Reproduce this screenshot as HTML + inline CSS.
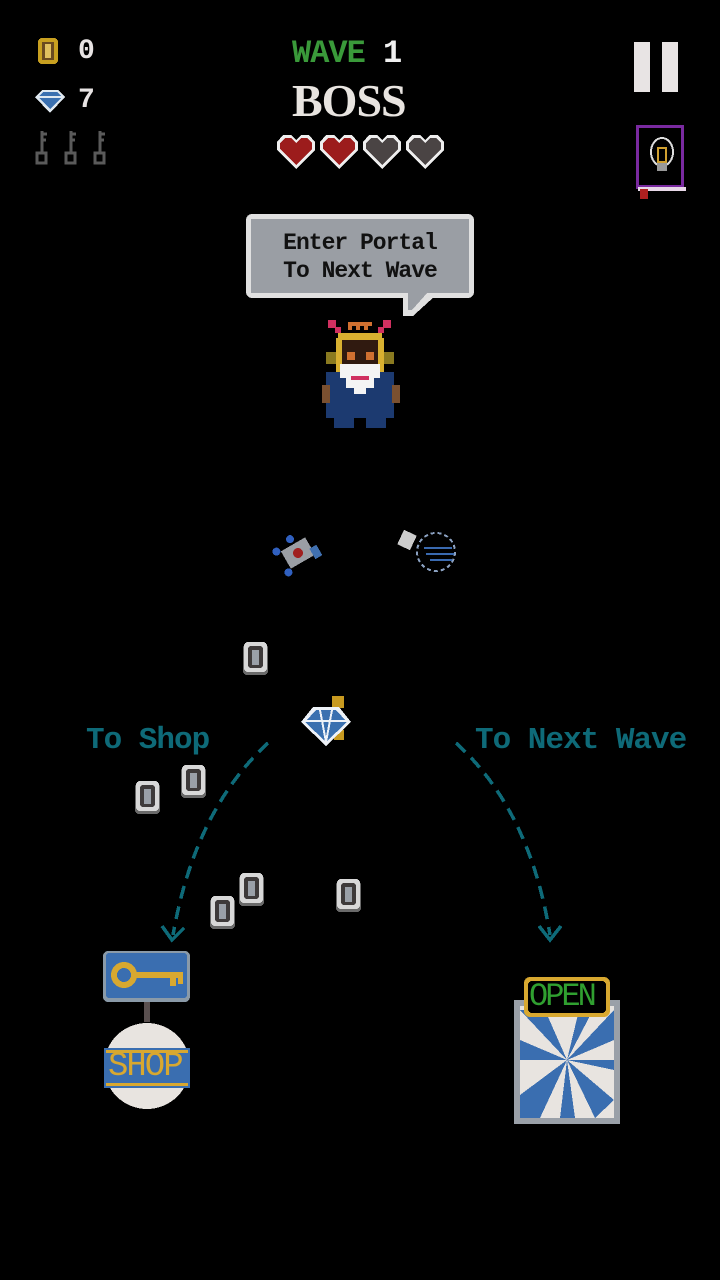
<!DOCTYPE html>
<html><head><meta charset="utf-8"><style>
html,body{margin:0;padding:0;background:#000;}
#c{position:relative;width:720px;height:1280px;overflow:hidden;background:#000;}
.t{position:absolute;font-family:"Liberation Mono",monospace;font-weight:bold;white-space:nowrap;line-height:1;}
</style></head><body><div id="c">
<svg width="720" height="1280" style="position:absolute;left:0;top:0" shape-rendering="crispEdges">
<defs>
<g id="scoin"><rect x="0" y="2" width="25" height="31" rx="4" fill="#6a6a6a"/><rect x="1" y="0" width="23" height="30" rx="4" fill="#d8d8d8"/><rect x="5" y="4" width="15" height="22" rx="3" fill="#3e3a3a"/><rect x="9" y="8" width="7" height="15" fill="#9aa0a8"/></g>
<g id="heart"><path d="M2 10 L8 3 L16 3 L21 8 L26 3 L34 3 L40 10 L40 18 L21 37 L2 18 Z" fill="#eee"/></g>
</defs>
<!-- top-left HUD -->
<rect x="38" y="38" width="20" height="26" rx="4" fill="#c8a020"/><rect x="42" y="42" width="12" height="18" fill="#6a4a20"/><rect x="45" y="44" width="6" height="14" fill="#e0c060"/>
<path d="M35 97 L42 90 L58 90 L65 97 L50 113 Z" fill="#dfe8f0"/><path d="M38 97 L43 92 L57 92 L62 97 L50 109 Z" fill="#3a70b0"/><rect x="37" y="96" width="26" height="2" fill="#dfe8f0"/>
<g fill="none" stroke="#5a5a5a" stroke-width="3">
<path d="M42 131 V153 M42 134 H47 M42 140 H46"/><rect x="37" y="153" width="9" height="10"/>
<path d="M71 131 V153 M71 134 H76 M71 140 H75"/><rect x="66" y="153" width="9" height="10"/>
<path d="M100 131 V153 M100 134 H105 M100 140 H104"/><rect x="95" y="153" width="9" height="10"/>
</g>
<!-- hearts -->
<g transform="translate(275,132)"><use href="#heart"/><path d="M5 11 L10 6 L16 6 L21 11 L26 6 L32 6 L37 11 L37 17 L21 33 L5 17 Z" fill="#9c1c1c"/></g>
<g transform="translate(318,132)"><use href="#heart"/><path d="M5 11 L10 6 L16 6 L21 11 L26 6 L32 6 L37 11 L37 17 L21 33 L5 17 Z" fill="#9c1c1c"/></g>
<g transform="translate(361,132)"><use href="#heart"/><path d="M5 11 L10 6 L16 6 L21 11 L26 6 L32 6 L37 11 L37 17 L21 33 L5 17 Z" fill="#4a4444"/></g>
<g transform="translate(404,132)"><use href="#heart"/><path d="M5 11 L10 6 L16 6 L21 11 L26 6 L32 6 L37 11 L37 17 L21 33 L5 17 Z" fill="#4a4444"/></g>
<!-- pause -->
<rect x="634" y="42" width="16" height="50" fill="#e8e4e4"/><rect x="662" y="42" width="16" height="50" fill="#e8e4e4"/>
<!-- book -->
<rect x="636" y="125" width="48" height="64" fill="#7a2aa0"/><rect x="639" y="128" width="42" height="57" fill="#000"/><rect x="638" y="187" width="48" height="4" fill="#e8d8e8"/><rect x="640" y="189" width="8" height="10" fill="#b02020"/>
<ellipse cx="662" cy="152" rx="11" ry="14" fill="none" stroke="#ddd" stroke-width="2"/><rect x="658" y="148" width="8" height="14" fill="none" stroke="#d0a030" stroke-width="2"/><rect x="657" y="163" width="10" height="8" fill="#999"/>
<!-- bubble -->
<rect x="246" y="214" width="228" height="84" rx="6" fill="#e0e0e0"/><rect x="251" y="219" width="218" height="74" fill="#9a9ea4"/>
<path d="M403 296 L435 296 L413 316 L403 316 Z" fill="#e0e0e0"/><path d="M408 292 L428 292 L412 310 L408 310 Z" fill="#9a9ea4"/>
<!-- character -->
<g>
<rect x="328" y="320" width="8" height="8" fill="#d03060"/><rect x="383" y="320" width="8" height="8" fill="#d03060"/>
<rect x="335" y="327" width="6" height="6" fill="#d03060"/><rect x="378" y="327" width="6" height="6" fill="#d03060"/>
<path d="M348 322 h24 v4 h-4 v4 h-4 v-4 h-4 v4 h-4 v-4 h-4 v4 h-4z" fill="#d07030"/>
<rect x="338" y="333" width="44" height="6" fill="#d8b030"/>
<rect x="336" y="338" width="48" height="34" fill="#d8b030"/><rect x="342" y="340" width="36" height="30" fill="#301a10"/>
<rect x="326" y="352" width="10" height="12" fill="#8a7a20"/><rect x="384" y="352" width="10" height="12" fill="#8a7a20"/>
<rect x="347" y="352" width="8" height="8" fill="#d07030"/><rect x="366" y="352" width="8" height="8" fill="#d07030"/>
<rect x="326" y="372" width="68" height="46" fill="#1c3a70"/><rect x="322" y="385" width="8" height="18" fill="#7a5030"/><rect x="392" y="385" width="8" height="18" fill="#7a5030"/>
<path d="M340 364 h40 v14 h-6 v10 h-8 v6 h-12 v-6 h-8 v-10 h-6z" fill="#f4f4f4"/><rect x="351" y="376" width="18" height="4" fill="#d03060"/>
<rect x="334" y="418" width="20" height="10" fill="#1c3a70"/><rect x="366" y="418" width="20" height="10" fill="#1c3a70"/>
</g>
<!-- ships -->
<g transform="translate(298,553) rotate(-30)"><rect x="-14" y="-10" width="28" height="20" fill="#9a9ea4"/><circle cx="0" cy="0" r="5" fill="#a02020"/><circle cx="-18" cy="-12" r="4" fill="#3060c0"/><circle cx="-18" cy="12" r="4" fill="#3060c0"/><circle cx="0" cy="-16" r="4" fill="#3060c0"/><rect x="12" y="2" width="8" height="12" fill="#4070b0"/></g>
<circle cx="436" cy="552" r="19" fill="none" stroke="#8aa0c0" stroke-width="2" stroke-dasharray="4 3"/><path d="M424 548 H452 M426 554 H454 M430 560 H452" stroke="#3a6ab0" stroke-width="2"/><rect x="400" y="532" width="14" height="16" fill="#ccc" transform="rotate(25 407 540)"/>
<!-- coins -->
<use href="#scoin" x="243" y="642"/><use href="#scoin" x="181" y="765"/><use href="#scoin" x="135" y="781"/><use href="#scoin" x="239" y="873"/><use href="#scoin" x="210" y="896"/><use href="#scoin" x="336" y="879"/>
<!-- diamond -->
<rect x="332" y="696" width="12" height="12" fill="#c89a20"/><rect x="334" y="730" width="10" height="10" fill="#c89a20"/>
<path d="M301 722 L313 707 L339 707 L351 722 L326 746 Z" fill="#eef2f8"/><path d="M305 722 L316 710 L336 710 L347 722 L326 742 Z" fill="#3a70b0"/><path d="M303 721 H349 M320 710 L326 742 M332 710 L326 742" stroke="#eef2f8" stroke-width="2"/>
<!-- dashed arrows -->
<g fill="none" stroke="#0e6a78" stroke-width="3.5" stroke-dasharray="13 8">
<path d="M268 743 Q195 810 173 935"/><path d="M456 743 Q530 810 550 935"/>
</g>
<g fill="none" stroke="#0e6a78" stroke-width="3.5"><path d="M162 926 L172 940 L184 928"/><path d="M539 926 L550 940 L561 926"/></g>
<!-- shop -->
<rect x="103" y="951" width="87" height="51" rx="5" fill="#8a9aa8"/><rect x="106" y="953" width="81" height="45" rx="3" fill="#3a6eb0"/>
<circle cx="124" cy="975" r="10" fill="none" stroke="#d8a830" stroke-width="6"/><rect x="133" y="972" width="50" height="6" fill="#d8a830"/><rect x="170" y="972" width="6" height="14" fill="#d8a830"/><rect x="178" y="972" width="5" height="12" fill="#d8a830"/>
<rect x="144" y="1002" width="6" height="20" fill="#5a5050"/>
<circle cx="147" cy="1066" r="43" fill="#e8e4e0"/><path d="M104 1048 H190 V1088 H104 Z" fill="#3a6eb0"/><rect x="106" y="1050" width="82" height="3" fill="#d8a830"/><rect x="106" y="1083" width="82" height="3" fill="#d8a830"/>
<!-- portal -->
<rect x="514" y="1000" width="106" height="124" fill="#9aa0a8"/><rect x="520" y="1006" width="94" height="112" fill="#e8e4e0"/>
<g fill="#3a6eb0"><path d="M567 1060 L520 1010 L545 1010 Z"/><path d="M567 1060 L614 1010 L614 1040 Z"/><path d="M567 1060 L614 1100 L595 1118 Z"/><path d="M567 1060 L540 1118 L520 1118 L520 1095 Z"/><path d="M567 1060 L520 1060 L520 1040 Z"/><path d="M567 1060 L580 1006 L595 1006 Z"/><path d="M567 1060 L614 1070 L614 1060 Z"/><path d="M567 1060 L560 1118 L575 1118 Z"/></g>
<rect x="524" y="977" width="86" height="40" rx="6" fill="#d8a830"/><rect x="528" y="981" width="78" height="32" rx="4" fill="#000"/>
</svg>
<div class="t" style="left:78px;top:38px;font-size:28px;color:#e8e4e4">0</div>
<div class="t" style="left:78px;top:87px;font-size:28px;color:#e8e4e4">7</div>
<div class="t" style="left:292px;top:38px;font-size:32px;color:#3a9a3a;letter-spacing:-1px">WAVE <span style="color:#f0f0f0">1</span></div>
<div class="t" style="left:292px;top:78px;font-size:46px;color:#e8e4e0;font-family:'Liberation Serif',serif;letter-spacing:-1px">BOSS</div>
<div class="t" style="left:251px;top:229px;width:218px;text-align:center;font-size:23px;color:#111;line-height:28px;letter-spacing:-1px">Enter Portal<br>To Next Wave</div>
<div class="t" style="left:86px;top:725px;font-size:31px;color:#0e6a78;letter-spacing:-1px">To Shop</div>
<div class="t" style="left:475px;top:725px;font-size:31px;color:#0e6a78;letter-spacing:-1px">To Next Wave</div>
<div class="t" style="left:108px;top:1050px;font-size:34px;color:#d8a830;font-weight:normal;letter-spacing:-2px">SHOP</div>
<div class="t" style="left:529px;top:981px;font-size:32px;color:#30a030;font-weight:normal;letter-spacing:-3px">OPEN</div>
</div></body></html>
